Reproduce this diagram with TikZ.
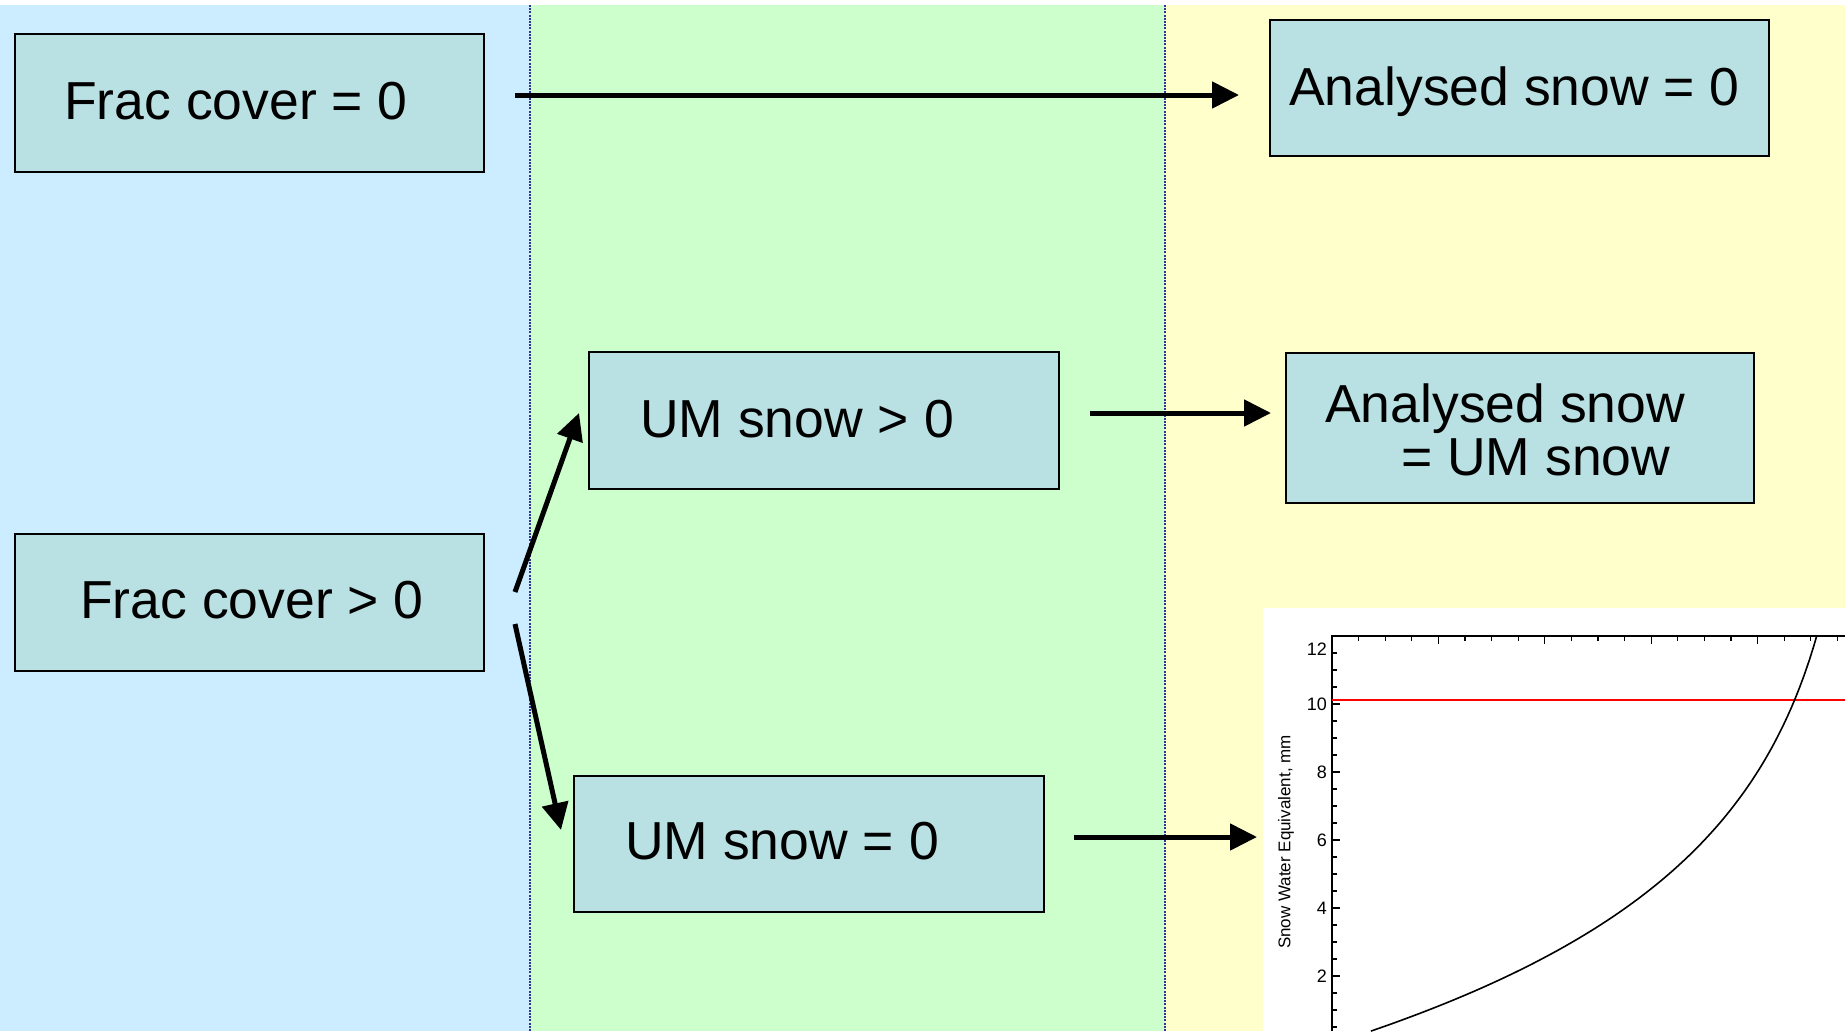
\documentclass[tikz,border=0pt]{standalone}
\usepackage{fontspec}
\setmainfont{Liberation Sans}
\usetikzlibrary{arrows.meta}
\definecolor{bandblue}{HTML}{CCECFF}
\definecolor{bandgreen}{HTML}{CCFFCC}
\definecolor{bandyellow}{HTML}{FFFFCC}
\definecolor{boxfill}{HTML}{B9E0E3}
\definecolor{sepblue}{HTML}{333399}
\begin{document}
\begin{tikzpicture}[x=1pt,y=-1pt,
  box/.style={draw=black,line width=1.6pt,fill=boxfill,inner sep=0pt},
  lbl/.style={anchor=base west,inner sep=0pt,font=\fontsize{53.5}{54}\selectfont},
  arr/.style={line width=5pt,-{Triangle[length=27pt,width=26pt]}},
  sepline/.style={sepblue,line width=2pt,dash pattern=on 2pt off 1.2pt},
  axis/.style={black,line width=1.4pt},
  tick/.style={black,line width=1.2pt},
  ticklbl/.style={anchor=east,inner sep=0pt,font=\fontsize{18}{18}\selectfont}]
\useasboundingbox (0,0) rectangle (1845,1031);
% background bands
\fill[white] (0,0) rectangle (1845,1031);
\fill[bandblue] (0,5) rectangle (530,1031);
\fill[bandgreen] (530,5) rectangle (1165,1031);
\fill[bandyellow] (1165,5) rectangle (1845,1031);
\draw[sepline] (530,5) -- (530,1031);
\draw[sepline] (1165,5) -- (1165,1031);

% plot
\fill[white] (1263,608) rectangle (1845,1031);
\draw[axis] (1332,1031) -- (1332,636) -- (1845,636);
\foreach \v in {0.5,1,...,12} {
  \draw[tick] (1332,{636+(12-\v)*34}) -- ++(5,0);
}
\foreach \v in {2,4,...,12} {
  \draw[tick] (1332,{636+(12-\v)*34}) -- ++(8,0);
}
\foreach \i in {1,...,19} {
  \draw[tick] ({1332+\i*26.6},636) -- ++(0,5);
}
\foreach \i in {1,...,4} {
  \draw[tick] ({1332+\i*106.4},636) -- ++(0,8);
}
\node[ticklbl] (l12) at (1327,649) {12};
\node[ticklbl] (l10) at (1327,704) {10};
\node[ticklbl] (l8) at (1327,772) {8};
\node[ticklbl] (l6) at (1327,840) {6};
\node[ticklbl] (l4) at (1327,908) {4};
\node[ticklbl] (l2) at (1327,976) {2};
\node[rotate=90,inner sep=0pt,font=\fontsize{17}{17}\selectfont] (ytitle) at (1286,842) {Snow Water Equivalent, mm};
\draw[red,line width=2pt] (1332,700) -- (1845,700);
\draw[black,line width=1.6pt] plot[domain=0.38:12,samples=90,variable=\v]
  ({1332+533*(1-exp(-\v/5))},{636+(12-\v)*34});

% boxes
\node[box,minimum width=469pt,minimum height=138pt] (f0) at (249.5,103) {};
\node[box,minimum width=499pt,minimum height=136pt] (a0) at (1519.5,88) {};
\node[box,minimum width=470pt,minimum height=137pt] (u1) at (824,420.5) {};
\node[box,minimum width=468pt,minimum height=150pt] (au) at (1520,428) {};
\node[box,minimum width=469pt,minimum height=137pt] (f1) at (249.5,602.5) {};
\node[box,minimum width=470pt,minimum height=136pt] (u0) at (809,844) {};

\node[lbl] (f0t) at (64,119) {Frac cover = 0};
\node[lbl] (a0t) at (1289,105) {Analysed snow = 0};
\node[lbl] (u1t) at (640,437) {UM snow > 0};
\node[lbl] (aut1) at (1325,422) {Analysed snow};
\node[lbl] (aut2) at (1401,475) {= UM snow};
\node[lbl] (f1t) at (80,618) {Frac cover > 0};
\node[lbl] (u0t) at (625,859) {UM snow = 0};

% connector endpoints
\coordinate (c1s) at (515,95);
\coordinate (c1e) at (1239,95);
\coordinate (c2s) at (515,592);
\coordinate (c2e) at (579,413);
\coordinate (c3s) at (515,624);
\coordinate (c3e) at (561,830);
\coordinate (c4s) at (1090,413);
\coordinate (c4e) at (1271,413);
\coordinate (c5s) at (1074,837);
\coordinate (c5e) at (1257,837);
\draw[arr] (c1s) -- (c1e);
\draw[arr] (c2s) -- (c2e);
\draw[arr] (c3s) -- (c3e);
\draw[arr] (c4s) -- (c4e);
\draw[arr] (c5s) -- (c5e);
\end{tikzpicture}
\end{document}
